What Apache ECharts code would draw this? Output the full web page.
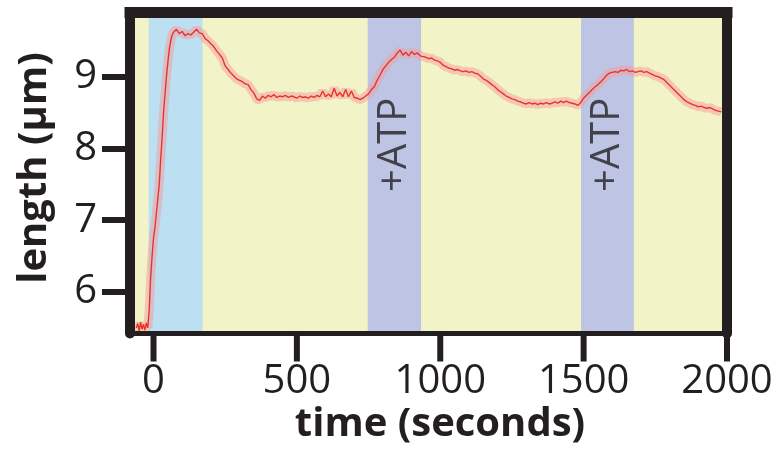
<!DOCTYPE html>
<html>
<head>
<meta charset="utf-8">
<script src="https://cdn.jsdelivr.net/npm/echarts@6/dist/echarts.min.js"></script>
<style>html,body{margin:0;padding:0;background:#fff}#c{width:780px;height:452px}</style>
</head>
<body>
<div id="c"></div>
<script>
// ---- data ----
const timeS = [-60,-55,-50,-45,-40,-35,-30,-25,-20,-15,-10,-5,0,5,10,15,20,25,30,35,40,45,50,55,60,65,70,
80,90,100,110,120,130,140,150,160,170,180,190,200,210,220,230,240,250,260,270,280,290,300,310,320,330,340,350,360,370,380,390,400,
410,420,430,440,450,460,470,480,490,500,510,520,530,540,550,560,570,580,590,600,610,620,630,640,650,660,670,680,690,700,
710,720,730,740,750,760,770,780,790,800,810,820,830,840,850,860,870,880,890,900,910,920,930,940,950,960,970,980,990,1000,
1010,1020,1030,1040,1050,1060,1070,1080,1090,1100,1110,1120,1130,1140,1150,1160,1170,1180,1190,1200,1210,1220,1230,1240,1250,
1260,1270,1280,1290,1300,1310,1320,1330,1340,1350,1360,1370,1380,1390,1400,1410,1420,1430,1440,1450,1460,1470,1480,1490,1500,
1510,1520,1530,1540,1550,1560,1570,1580,1590,1600,1610,1620,1630,1640,1650,1660,1670,1680,1690,1700,1710,1720,1730,1740,1750,
1760,1770,1780,1790,1800,1810,1820,1830,1840,1850,1860,1870,1880,1890,1900,1910,1920,1930,1940,1950,1960,1970,1980];
const lengthUm = [5.50,5.56,5.46,5.58,5.48,5.55,5.47,5.57,5.50,5.75,6.20,6.50,6.75,6.90,7.10,7.30,7.50,7.85,8.15,8.50,8.75,9.00,9.20,9.38,9.50,9.58,9.62,
9.66,9.60,9.63,9.57,9.60,9.58,9.62,9.66,9.61,9.60,9.53,9.50,9.46,9.42,9.36,9.31,9.26,9.15,9.10,9.05,9.01,8.97,8.95,8.93,8.90,8.89,8.82,8.77,8.69,8.67,8.73,8.70,8.74,
8.72,8.75,8.71,8.73,8.72,8.74,8.71,8.73,8.72,8.70,8.73,8.71,8.72,8.70,8.73,8.71,8.74,8.72,8.80,8.72,8.76,8.72,8.84,8.73,8.78,8.72,8.82,8.72,8.80,8.71,
8.70,8.68,8.70,8.73,8.76,8.82,8.86,8.95,9.02,9.10,9.15,9.20,9.24,9.27,9.33,9.37,9.30,9.34,9.29,9.35,9.31,9.33,9.29,9.28,9.27,9.25,9.26,9.23,9.22,9.20,
9.16,9.14,9.12,9.11,9.09,9.10,9.08,9.07,9.08,9.06,9.07,9.05,9.04,9.01,8.97,8.95,8.92,8.89,8.86,8.82,8.79,8.76,8.73,8.71,8.69,
8.68,8.66,8.65,8.63,8.62,8.64,8.62,8.63,8.61,8.63,8.62,8.64,8.62,8.63,8.65,8.63,8.66,8.64,8.66,8.64,8.63,8.62,8.60,8.64,8.70,
8.74,8.78,8.82,8.86,8.89,8.93,8.97,9.02,9.05,9.06,9.07,9.06,9.09,9.08,9.10,9.07,9.08,9.06,9.07,9.08,9.06,9.07,9.05,9.03,9.01,
9.00,8.98,8.96,8.92,8.88,8.84,8.80,8.76,8.72,8.68,8.65,8.63,8.61,8.60,8.58,8.59,8.57,8.56,8.57,8.55,8.53,8.52,8.51];
const lightBand = [-17, 171];            // illumination (blue)
const atpBands = [[747, 933], [1491, 1675]]; // +ATP (purple)
const xTicks = [0, 500, 1000, 1500, 2000];
const yTicks = [6, 7, 8, 9];
const atpLabel = '+ATP';
const xTitle = 'time (seconds)';
const yTitle = 'length (µm)';

const INK = '#231F20';
const FONT = '"Open Sans", "Noto Sans", sans-serif';
const pts = timeS.map((t, i) => [t, lengthUm[i]]);

const areas = [[{xAxis: lightBand[0], itemStyle: {color: '#BCDFF1'}}, {xAxis: lightBand[1]}]]
  .concat(atpBands.map(b => [{xAxis: b[0], itemStyle: {color: '#BDC4E4'}}, {xAxis: b[1]}]));

const chart = echarts.init(document.getElementById('c'), null, {renderer: 'canvas'});
const xMin = -82, xMax = 2000, yMin = 5.422, yMax = 9.894;
const plain = v => String(v);
chart.setOption({
  animation: false,
  backgroundColor: '#ffffff',
  grid: {left: 130, right: 53, top: 12.5, bottom: 118.5, show: true, backgroundColor: '#F3F3C8', borderWidth: 0},
  xAxis: [{
    type: 'value', min: xMin, max: xMax, position: 'bottom', z: 10,
    axisLine: {show: true, onZero: false, lineStyle: {color: INK, width: 5, cap: 'square'}},
    axisTick: {show: false},
    axisLabel: {show: true, customValues: xTicks, formatter: plain, fontSize: 40, fontFamily: FONT, color: INK, margin: 28},
    splitLine: {show: false}
  }, {
    type: 'value', min: xMin, max: xMax, position: 'top', z: 10,
    axisLine: {show: true, onZero: false, lineStyle: {color: INK, width: 11, cap: 'square'}},
    axisTick: {show: false}, axisLabel: {show: false}, splitLine: {show: false}
  }],
  yAxis: [{
    type: 'value', min: yMin, max: yMax, position: 'left', z: 10,
    axisLine: {show: true, onZero: false, lineStyle: {color: INK, width: 10}},
    axisTick: {show: true, customValues: yTicks, length: 28, lineStyle: {color: INK, width: 6}},
    axisLabel: {show: true, customValues: yTicks, formatter: plain, fontSize: 40, fontFamily: FONT, color: INK, margin: 33},
    splitLine: {show: false}
  }, {
    type: 'value', min: yMin, max: yMax, position: 'right', z: 10,
    axisLine: {show: true, onZero: false, lineStyle: {color: INK, width: 10}},
    axisTick: {show: false}, axisLabel: {show: false}, splitLine: {show: false}
  }],
  series: [{
    type: 'line', data: pts, symbol: 'none', silent: true, z: 2,
    lineStyle: {color: 'rgba(244,155,155,0.5)', width: 9},
    markArea: {silent: true, data: areas}
  }, {
    type: 'line', data: pts, symbol: 'none', silent: true, z: 3,
    lineStyle: {color: '#E8352B', width: 1.4}
  }, {
    type: 'scatter', silent: true, z: 4, symbolSize: 0,
    data: atpBands.map(b => [(b[0] + b[1]) / 2, 8.05]),
    label: {show: true, formatter: atpLabel, position: 'inside', rotate: 90,
      fontSize: 40, fontFamily: FONT, color: INK, align: 'center', verticalAlign: 'middle'}
  }, {
    // x-axis tick marks, placed through the axis scale
    type: 'custom', silent: true, z: 20, clip: false,
    data: xTicks.map(t => [t, yMin]),
    renderItem: function (params, api) {
      const p = api.coord([api.value(0), api.value(1)]);
      return {type: 'rect', shape: {x: p[0] - 3, y: p[1], width: 6, height: 28},
        style: {fill: INK}};
    }
  }],
  graphic: [{
    type: 'text', x: 440, y: 425,
    style: {text: xTitle, font: 'bold 40px ' + FONT, fill: INK, textAlign: 'center', textVerticalAlign: 'middle'}
  }, {
    type: 'text', x: 35, y: 168, rotation: Math.PI / 2,
    style: {text: yTitle, font: 'bold 40px ' + FONT, fill: INK, textAlign: 'center', textVerticalAlign: 'middle'}
  }]
});
</script>
</body>
</html>
